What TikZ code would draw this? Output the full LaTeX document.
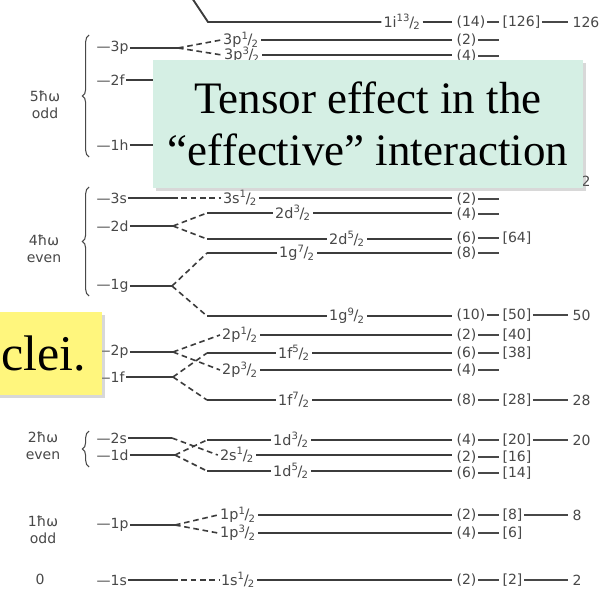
\documentclass[tikz,border=0pt]{standalone}
\usepackage{fontspec}
\setmainfont{DejaVu Sans}
\newfontfamily\tnr{Liberation Serif}
\usetikzlibrary{shadows,decorations.pathreplacing}
\definecolor{linec}{HTML}{3C3C3C}
\definecolor{txtc}{HTML}{484848}
\definecolor{mint}{HTML}{D5EFE4}
\definecolor{ylw}{HTML}{FFF67D}
\newcommand{\jh}[1]{\textsuperscript{#1}\kern-.06em/\kern-.06em\textsubscript{2}}
\tikzset{
  lev/.style={draw=linec, line width=1.4pt},
  dsh/.style={draw=linec, line width=1.2pt, dash pattern=on 4.2pt off 2.8pt},
  thinl/.style={draw=txtc, line width=1pt},
  sublab/.style={text=txtc, font=\fontsize{10.8}{12}\selectfont, inner sep=1.5pt},
  lft/.style={text=txtc, font=\fontsize{10.5}{12}\selectfont, anchor=west, inner sep=1pt},
  rtn/.style={text=txtc, font=\fontsize{10.5}{12}\selectfont, anchor=west, inner sep=1pt},
  shl/.style={text=txtc, font=\fontsize{10.5}{12.5}\selectfont, align=center, inner sep=0pt},
  brc/.style={draw=txtc, line width=0.8pt, decorate, decoration={brace, amplitude=5pt}},
  gbox/.style={fill=mint, minimum width=322.5pt, minimum height=96pt, inner sep=0pt,
    align=center, font=\tnr\fontsize{33.75}{39}\selectfont,
    drop shadow={shadow xshift=2.5pt, shadow yshift=-2.5pt, opacity=0.3}},
  ybox/.style={fill=ylw, minimum width=114pt, minimum height=62.25pt, inner sep=0pt,
    drop shadow={shadow xshift=2.5pt, shadow yshift=-2.5pt, opacity=0.3}},
  ytxt/.style={font=\tnr\fontsize{37.5}{42}\selectfont, inner sep=0pt}
}
% right column helpers
\newcommand{\rtone}[3]{%
  \node[rtn] (#1n) at (455,#2) {(#3)};
  \coordinate (#1d) at (499,#2);
  \draw[thinl] (#1n.east) -- (#1d);}
\newcommand{\rttwo}[4]{\rtone{#1}{#2}{#3}\node[rtn] (#1N) at (501,#2) {[#4]};}
\newcommand{\rtthree}[5]{\rttwo{#1}{#2}{#3}{#4}%
  \coordinate (#1m) at (568,#2);
  \draw[thinl] (#1N.east) -- (#1m);
  \node[rtn] (#1M) at (571,#2) {#5};}
% j-sublevel
\newcommand{\jlev}[4]{%
  \node[sublab] (#1) at (#3,#2) {#4};
  \coordinate (#1e) at (452,#2);
  \draw[lev] (#1.east) -- (#1e);}
% nl level on the left
\newcommand{\nlev}[4]{%
  \node[lft] (#1) at (95,#2) {—#3};
  \coordinate (#1a) at (#4,#2);
  \draw[lev] (#1.east) -- (#1a);}
\begin{document}
\begin{tikzpicture}[x=0.75pt,y=-0.75pt]
\path[use as bounding box] (0,0) rectangle (604,592);
\clip (0,0) rectangle (604,592);
\fill[white] (0,0) rectangle (604,592);

% 1i13/2
\coordinate (iA) at (192,-2);
\coordinate (iB) at (208,22);
\jlev{ii}{22}{402}{1i\jh{13}}
\draw[lev] (iA) -- (iB) -- (ii.west);
\rtthree{ii}{22}{14}{126}{126}

% 3p
\nlev{p3}{48}{3p}{178}
\jlev{pa}{40}{241}{3p\jh{1}}
\jlev{pb}{55}{242}{3p\jh{3}}
\draw[dsh] (p3a) -- (pa.west);
\draw[dsh] (p3a) -- (pb.west);
\rtone{pa}{40}{2}
\rtone{pb}{56}{4}
% 2f, 1h (mostly hidden)
\nlev{f2}{80}{2f}{200}
\nlev{h1}{145}{1h}{200}
\coordinate (hh0) at (200,182);
\coordinate (hhe) at (452,182);
\draw[lev] (hh0) -- (hhe);
\rtthree{hh}{181}{12}{82}{82}

% 3s
\nlev{s3}{198}{3s}{172}
\jlev{sa}{198}{240}{3s\jh{1}}
\draw[dsh] (s3a) -- (sa.west);
\rtone{sa}{199}{2}
% 2d
\nlev{d2}{226}{2d}{173}
\coordinate (da0) at (207,213);
\coordinate (db0) at (207,239);
\jlev{da}{213}{293}{2d\jh{3}}
\jlev{db}{239}{347}{2d\jh{5}}
\draw[dsh] (d2a) -- (da0);
\draw[dsh] (d2a) -- (db0);
\draw[lev] (da0) -- (da.west);
\draw[lev] (db0) -- (db.west);
\rtone{da}{214}{4}
\rttwo{db}{238}{6}{64}
% 1g
\nlev{g1}{286}{1g}{172}
\coordinate (ga0) at (207,253);
\coordinate (gb0) at (207,316);
\jlev{ga}{253}{297}{1g\jh{7}}
\jlev{gb}{316}{347}{1g\jh{9}}
\draw[dsh] (g1a) -- (ga0);
\draw[dsh] (g1a) -- (gb0);
\draw[lev] (ga0) -- (ga.west);
\draw[lev] (gb0) -- (gb.west);
\rtone{ga}{253}{8}
\rtthree{gb}{315}{10}{50}{50}
% 2p
\nlev{p2}{352}{2p}{173}
\jlev{qa}{335}{240}{2p\jh{1}}
\jlev{qb}{370}{240}{2p\jh{3}}
\draw[dsh] (p2a) -- (qa.west);
\draw[dsh] (p2a) -- (qb.west);
\rttwo{qa}{335}{2}{40}
\rtone{qb}{370}{4}
% 1f
\nlev{f1}{377}{1f}{173}
\coordinate (fa0) at (207,353);
\coordinate (fb0) at (207,400);
\jlev{fa}{353}{294}{1f\jh{5}}
\jlev{fb}{400}{294}{1f\jh{7}}
\draw[dsh] (f1a) -- (fa0);
\draw[dsh] (f1a) -- (fb0);
\draw[lev] (fa0) -- (fa.west);
\draw[lev] (fb0) -- (fb.west);
\rttwo{fa}{353}{6}{38}
\rtthree{fb}{400}{8}{28}{28}
% 2s
\nlev{s2}{438}{2s}{172}
\jlev{ta}{455}{237}{2s\jh{1}}
\draw[dsh] (s2a) -- (ta.west);
\rttwo{ta}{457}{2}{16}
% 1d
\nlev{d1}{455}{1d}{175}
\coordinate (ea0) at (207,440);
\coordinate (eb0) at (207,471);
\jlev{ea}{440}{291}{1d\jh{3}}
\jlev{eb}{471}{291}{1d\jh{5}}
\draw[dsh] (d1a) -- (ea0);
\draw[dsh] (d1a) -- (eb0);
\draw[lev] (ea0) -- (ea.west);
\draw[lev] (eb0) -- (eb.west);
\rtthree{ea}{440}{4}{20}{20}
\rttwo{eb}{473}{6}{14}
% 1p
\nlev{p1}{525}{1p}{175}
\jlev{ra}{515}{238}{1p\jh{1}}
\jlev{rb}{533}{238}{1p\jh{3}}
\draw[dsh] (p1a) -- (ra.west);
\draw[dsh] (p1a) -- (rb.west);
\rtthree{ra}{515}{2}{8}{8}
\rttwo{rb}{533}{4}{6}
% 1s
\nlev{s1}{580}{1s}{172}
\jlev{ua}{580}{238}{1s\jh{1}}
\draw[dsh] (s1a) -- (ua.west);
\rtthree{ua}{580}{2}{2}{2}

% shell labels and braces
\node[shl] (sh5) at (45,105) {5ħω\\odd};
\node[shl] (sh4) at (44,249) {4ħω\\even};
\node[shl] (sh2) at (43,446) {2ħω\\even};
\node[shl] (sh1) at (43,530) {1ħω\\odd};
\node[shl] (sh0) at (40,579) {0};
\coordinate (b5t) at (89,35);  \coordinate (b5b) at (89,157);
\coordinate (b4t) at (89,187); \coordinate (b4b) at (89,296);
\coordinate (b2t) at (89,431); \coordinate (b2b) at (89,467);
\draw[brc] (b5b) -- (b5t);
\draw[brc] (b4b) -- (b4t);
\draw[brc] (b2b) -- (b2t);

% overlay boxes
\node[gbox] (gb) at (368,124) {Tensor effect in the\\“effective” interaction};
\node[ybox] (yb) at (26,353.5) {};
\node[ytxt, anchor=base east] (yt) at (86,370) {clei.};
\end{tikzpicture}
\end{document}
